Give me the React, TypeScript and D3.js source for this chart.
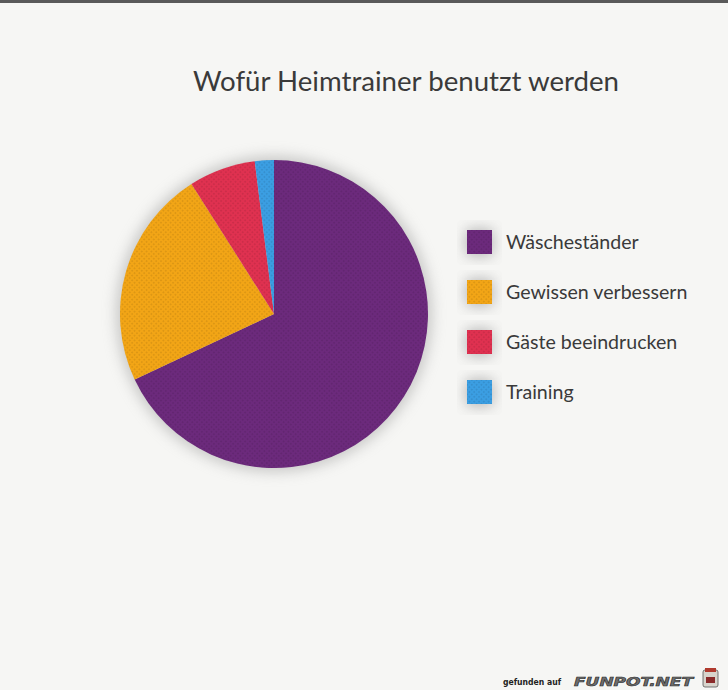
import React, { useEffect, useRef } from 'react';
import * as d3 from 'd3';

const categories = ['Wäscheständer', 'Gewissen verbessern', 'Gäste beeindrucken', 'Training'];
const shares = [68, 23, 7, 2];
const colors = ['#6c2a7c', '#f2a516', '#df3150', '#3b9ee2'];
const title = 'Wofür Heimtrainer benutzt werden';

const W = 728;
const H = 690;
const FONT = "Lato, 'Open Sans', sans-serif";

export default function App() {
  const svgRef = useRef<SVGSVGElement>(null);

  useEffect(() => {
    if (!svgRef.current) return;
    const svg = d3.select(svgRef.current);
    svg.selectAll('*').remove();
    svg.attr('width', W).attr('height', H);

    const defs = svg.append('defs');
    defs
      .append('filter')
      .attr('id', 'halo')
      .attr('x', '-30%')
      .attr('y', '-30%')
      .attr('width', '160%')
      .attr('height', '160%')
      .append('feGaussianBlur')
      .attr('stdDeviation', 7);
    const dots = defs
      .append('pattern')
      .attr('id', 'dots')
      .attr('width', 3.4)
      .attr('height', 3.4)
      .attr('patternUnits', 'userSpaceOnUse')
      .attr('patternTransform', 'rotate(45)');
    dots.append('circle').attr('cx', 1.7).attr('cy', 1.7).attr('r', 0.8).attr('fill', '#000').attr('opacity', 0.12);

    // paper
    svg.append('rect').attr('width', W).attr('height', H).attr('fill', '#f6f6f4');
    svg.append('rect').attr('width', W).attr('height', 3).attr('fill', '#5a5a5a');

    // title
    svg
      .append('text')
      .attr('x', 406)
      .attr('y', 91)
      .attr('text-anchor', 'middle')
      .attr('font-family', FONT)
      .attr('font-size', 26)
      .attr('fill', '#3a3a3a')
      .attr('textLength', 426)
      .attr('lengthAdjust', 'spacingAndGlyphs')
      .text(title);

    // pie
    const cx = 274;
    const cy = 314;
    const r = 154;
    const pie = d3.pie<number>().sort(null).value((d) => d);
    const arc = d3.arc<d3.PieArcDatum<number>>().innerRadius(0).outerRadius(r);
    const g = svg.append('g').attr('transform', `translate(${cx},${cy})`);
    g.append('circle').attr('r', r + 4).attr('fill', '#9a9a9a').attr('opacity', 0.5).attr('filter', 'url(#halo)');
    const arcs = pie(shares);
    g.selectAll('path.slice')
      .data(arcs)
      .join('path')
      .attr('class', 'slice')
      .attr('d', arc)
      .attr('fill', (_, i) => colors[i]);
    g.append('circle').attr('r', r).attr('fill', 'url(#dots)');

    // legend
    const legendY = d3.scaleBand<string>().domain(categories).range([217, 417]).paddingInner(0);
    const lg = svg.append('g');
    const rows = lg
      .selectAll('g.row')
      .data(categories)
      .join('g')
      .attr('class', 'row')
      .attr('transform', (d) => `translate(467,${(legendY(d) ?? 0) + legendY.bandwidth() / 2})`);
    rows
      .append('rect')
      .attr('x', -1)
      .attr('y', -13)
      .attr('width', 27)
      .attr('height', 27)
      .attr('fill', '#8c8c8c')
      .attr('opacity', 0.6)
      .attr('filter', 'url(#halo)');
    rows
      .append('rect')
      .attr('y', -12)
      .attr('width', 25)
      .attr('height', 24)
      .attr('fill', (_, i) => colors[i]);
    rows
      .append('rect')
      .attr('y', -12)
      .attr('width', 25)
      .attr('height', 24)
      .attr('fill', 'url(#dots)');
    rows
      .append('text')
      .attr('x', 39)
      .attr('y', 7)
      .attr('font-family', FONT)
      .attr('font-size', 19.6)
      .attr('fill', '#3a3a3a')
      .text((d) => d);

    // watermark
    svg
      .append('text')
      .attr('x', 503)
      .attr('y', 685)
      .attr('font-family', "'DejaVu Sans', sans-serif")
      .attr('font-size', 9.5)
      .attr('font-weight', 'bold')
      .attr('fill', '#222')
      .attr('textLength', 58)
      .attr('lengthAdjust', 'spacingAndGlyphs')
      .text('gefunden auf');
    svg
      .append('text')
      .attr('x', 574)
      .attr('y', 686)
      .attr('font-family', "'DejaVu Sans', sans-serif")
      .attr('font-size', 13)
      .attr('font-weight', 'bold')
      .attr('font-style', 'italic')
      .attr('fill', '#6e6e6e')
      .attr('stroke', '#2a2a2a')
      .attr('stroke-width', 0.6)
      .attr('textLength', 119)
      .attr('lengthAdjust', 'spacingAndGlyphs')
      .text('FUNPOT.NET');
    const icon = svg.append('g').attr('transform', 'translate(703,670)');
    icon.append('rect').attr('width', 15).attr('height', 17).attr('rx', 2).attr('fill', '#d8d4cc').attr('stroke', '#555').attr('stroke-width', 0.8);
    icon.append('rect').attr('x', 3).attr('y', 7).attr('width', 9).attr('height', 6).attr('fill', '#8a2a2a');
    icon.append('rect').attr('x', 2).attr('y', -2).attr('width', 11).attr('height', 4).attr('fill', '#b03a2e');
  }, []);

  return <svg ref={svgRef} style={{ position: 'absolute', left: 0, top: 0, display: 'block' }} />;
}
